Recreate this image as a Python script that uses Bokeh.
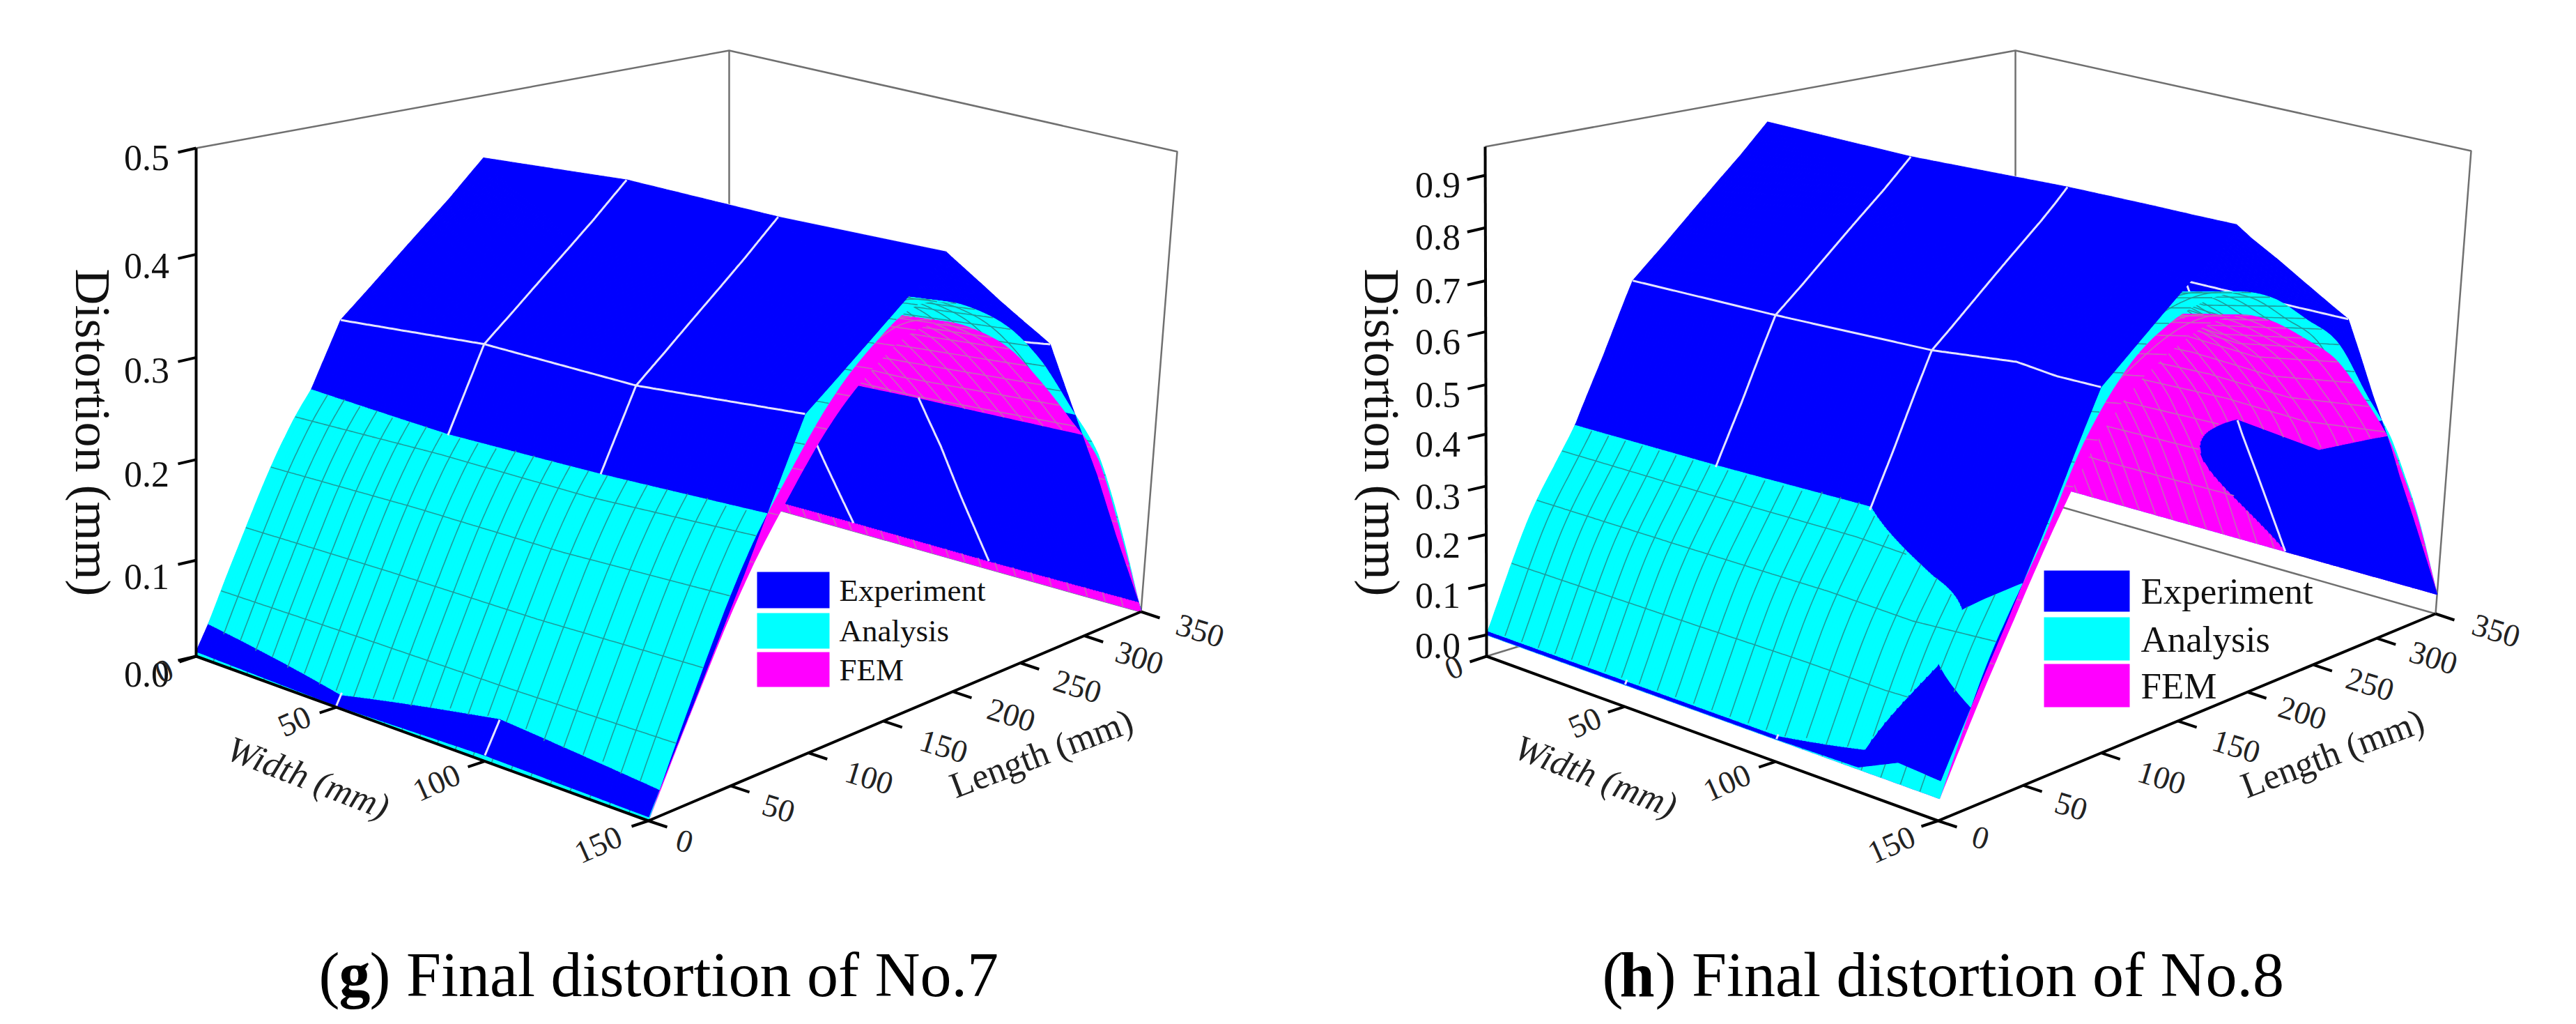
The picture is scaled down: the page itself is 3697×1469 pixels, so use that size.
import numpy as np
from bokeh.plotting import figure
from bokeh.layouts import row
from bokeh.models import Range1d
from bokeh.embed import file_html
from bokeh.resources import INLINE
from bokeh.core.properties import value

# ---- chart values (mm) ----
WIDTH_TICKS = [0, 50, 100, 150]
LENGTH_TICKS = [0, 50, 100, 150, 200, 250, 300, 350]
Z_TICKS_7 = [0.0, 0.1, 0.2, 0.3, 0.4, 0.5]
Z_TICKS_8 = [0.0, 0.1, 0.2, 0.3, 0.4, 0.5, 0.6, 0.7, 0.8, 0.9]
LEGEND_LABELS = ["Experiment", "Analysis", "FEM"]
COLORS = ["#0000ff", "#00ffff", "#ff00ff"]

EXP_WIDTH_7 = [0, 50, 100, 150]
EXP_LENGTH_7 = [0, 83, 172, 255, 350]
EXP_Z_7 = [[0.005, 0.304, 0.437, 0.296, 0.002],
           [0.0015, 0.323, 0.453, 0.310, 0.002],
           [0.006, 0.327, 0.456, 0.309, 0.002],
           [0.004, 0.348, 0.465, 0.337, 0.002]]
EXP_WIDTH_8 = [0, 50, 100, 125, 137, 150]
EXP_LENGTH_8 = [0, 84, 168, 258, 350]
EXP_Z_8 = [[0.001, 0.636, 0.900, 0.680, 0.060],
           [0.001, 0.652, 0.905, 0.680, 0.050],
           [0.001, 0.674, 0.924, 0.670, 0.000],
           [0.004, 0.700, 0.930, 0.673, 0.000],
           [0.040, 0.695, 0.932, 0.675, 0.000],
           [0.034, 0.699, 0.935, 0.677, 0.000]]

MODEL_LENGTH = [0, 25, 50, 75, 100, 125, 150, 175, 200, 225, 250, 275, 300, 325, 350]
ANA_Z_7 = [0, 0.120, 0.225, 0.295, 0.355, 0.395, 0.420, 0.415, 0.395, 0.365, 0.320, 0.262, 0.200, 0.110, 0]
FEM_Z_7 = [0, 0.105, 0.200, 0.270, 0.330, 0.370, 0.395, 0.395, 0.375, 0.345, 0.300, 0.250, 0.195, 0.105, 0]
FACTOR_WIDTH_7 = [0, 50, 100, 150]
ANA_WIDTH_FACTOR_7 = [0.89, 0.925, 0.945, 1.0]
ANA_Z_8 = [0, 0.245, 0.420, 0.600, 0.720, 0.780, 0.805, 0.800, 0.765, 0.705, 0.637, 0.515, 0.385, 0.215, 0]
FEM_Z_8 = [0, 0.200, 0.390, 0.550, 0.660, 0.720, 0.755, 0.755, 0.720, 0.665, 0.600, 0.500, 0.375, 0.210, 0]
FACTOR_WIDTH_8 = [0, 50, 100, 125, 150]
ANA_WIDTH_FACTOR_8 = [0.90, 0.923, 0.955, 0.945, 1.0]

# ---- how each 3-D box lies on the page ----
PANEL_7 = dict(
    corners={(0, 0, 0): (289, 949), (0, 0, 1): (289, 220), (1, 0, 0): (938, 1185), (1, 0, 1): (985, 425),
             (0, 1, 0): (1054, 719), (0, 1, 1): (1054, 80), (1, 1, 0): (1645, 885), (1, 1, 1): (1697, 225)},
    u=[0, .31, .638, 1], v=[0, .167, .325, .477, .618, .755, .885, 1],
    zk=[0, .1, .2, .3, .4, .5], wk=[0, .189, .387, .588, .791, 1],
    zmin=0.0, zmax=0.5, z_ticks=Z_TICKS_7,
    exp_w=EXP_WIDTH_7, exp_l=EXP_LENGTH_7, exp_z=EXP_Z_7, ana=ANA_Z_7, fem=FEM_Z_7,
    fac_w=FACTOR_WIDTH_7, fac=ANA_WIDTH_FACTOR_7,
    xr=(8, 1848), zlab_x=218, zlab_dy=(26, 14), ztitle_x=140,
    wlab=[(243, 970), (430, 1042), (634, 1130), (866, 1219)], wtitle=(450, 1123),
    llab=[(990, 1214), (1125, 1167), (1255, 1123), (1362, 1078), (1459, 1033), (1554, 992), (1643, 951), (1730, 912)],
    ltitle=(1502, 1088),
    legend=[(1094, 1198, 828, 880), (1094, 1198, 887, 938), (1094, 1198, 943, 993)], leg_x=1212, leg_size="45px",
    cap=[("(", 465, "normal"), ("g", 494, "bold"), (") Final distortion of No.7", 538, "normal")])
PANEL_8 = dict(
    corners={(0, 0, 0): (2141, 949), (0, 0, 1): (2139, 218), (1, 0, 0): (2789, 1185), (1, 0, 1): (2836, 425),
             (0, 1, 0): (2900, 716), (0, 1, 1): (2900, 80), (1, 1, 0): (3503, 888), (1, 1, 1): (3554, 224)},
    u=[0, .306, .64, 1], v=[0, .171, .328, .482, .622, .754, .882, 1],
    zk=[-.043, 0, .1, .2, .3, .4, .5, .6, .7, .8, .9, .95],
    wk=[0, .042, .141, .239, .334, .436, .533, .637, .737, .841, .944, 1],
    zmin=-0.043, zmax=0.95, z_ticks=Z_TICKS_8,
    exp_w=EXP_WIDTH_8, exp_l=EXP_LENGTH_8, exp_z=EXP_Z_8, ana=ANA_Z_8, fem=FEM_Z_8,
    fac_w=FACTOR_WIDTH_8, fac=ANA_WIDTH_FACTOR_8,
    xr=(1848, 3689), zlab_x=2071, zlab_dy=(16, 14), ztitle_x=1990,
    wlab=[(2094, 965), (2282, 1044), (2486, 1130), (2722, 1219)], wtitle=(2298, 1121),
    llab=[(2850, 1209), (2980, 1164), (3110, 1123), (3217, 1078), (3312, 1030), (3409, 989), (3500, 951), (3590, 912)],
    ltitle=(3355, 1088),
    legend=[(2941, 3064, 826, 885), (2941, 3064, 893, 955), (2941, 3064, 960, 1022)], leg_x=3080, leg_size="53px",
    cap=[("(", 2307, "normal"), ("h", 2332, "bold"), (") Final distortion of No.8", 2383, "normal")])

SERIF = value("Liberation Serif")
WG = np.linspace(0, 150, 151)
LG = np.linspace(0, 350, 351)


def smooth_profile(vals):
    """Catmull-Rom curve through the read profile values, on a 1 mm table."""
    q = np.arange(0, 351.0)
    y = np.asarray(vals, float)
    y = np.concatenate([[2 * y[0] - y[1]], y, [2 * y[-1] - y[-2]]])
    s = q / 25.0
    i = np.clip(np.floor(s).astype(int), 0, len(vals) - 2) + 1
    t = s - (i - 1)
    p0, p1, p2, p3 = y[i - 1], y[i], y[i + 1], y[i + 2]
    return q, 0.5 * (2 * p1 + (p2 - p0) * t + (2 * p0 - 5 * p1 + 4 * p2 - p3) * t ** 2 + (3 * p1 - p0 - 3 * p2 + p3) * t ** 3)


def make_heights(P):
    ln = np.asarray(P["exp_l"], float)
    zn = np.asarray(P["exp_z"], float)
    wn = P["exp_w"]
    def exp_h(W, L):
        W, L = np.asarray(W, float), np.asarray(L, float)
        stack = np.stack([np.interp(W, wn, zn[:, k]) for k in range(len(ln))])
        j = np.clip(np.searchsorted(ln, L, side="right") - 1, 0, len(ln) - 2)
        t = (L - ln[j]) / (ln[j + 1] - ln[j])
        a = np.arange(W.size)
        return stack[j, a] * (1 - t) + stack[j + 1, a] * t
    def model(vals):
        q, tab = smooth_profile(vals)
        def h(W, L):
            return np.interp(W, P["fac_w"], P["fac"]) * np.interp(L, q, tab)
        return h
    return [exp_h, model(P["ana"]), model(P["fem"])]


def make_project(P):
    c = P["corners"]
    def proj(W, L, z):
        W, L, z = np.asarray(W, float), np.asarray(L, float), np.asarray(z, float)
        u = np.interp(W, WIDTH_TICKS, P["u"])
        v = np.interp(L, LENGTH_TICKS, P["v"])
        w = np.interp(z, P["zk"], P["wk"])
        x = 0 * u
        y = 0 * u
        for (a, b, d), (px, py) in c.items():
            f = (u if a else 1 - u) * (v if b else 1 - v) * (w if d else 1 - w)
            x = x + f * px
            y = y + f * py
        return x, y
    return proj


def runs(mask):
    out, j, n = [], 0, len(mask)
    while j < n:
        if mask[j]:
            k = j
            while k + 1 < n and mask[k + 1]:
                k += 1
            out.append((j, k))
            j = k + 1
        else:
            j += 1
    return out


def draw_panel(P):
    p = figure(width=P["xr"][1] - P["xr"][0], height=1453, x_range=Range1d(*P["xr"]), y_range=Range1d(1461, 8),
               output_backend="svg", toolbar_location=None, min_border=0, outline_line_color=None)
    p.axis.visible = False
    p.grid.visible = False
    heights = make_heights(P)
    proj = make_project(P)
    zmin, zmax = P["zmin"], P["zmax"]

    # the box behind the surfaces
    def line3(pts):
        a = np.array(pts, float)
        return proj(a[:, 0], a[:, 1], a[:, 2])
    bx, by = [], []
    for pts in ([(0, 0, zmax), (0, 350, zmax), (150, 350, zmax), (150, 350, zmin)],
                [(0, 350, zmax), (0, 350, zmin)], [(0, 0, zmin), (0, 350, zmin), (150, 350, zmin)]):
        x, y = line3(pts)
        bx.append(list(x)); by.append(list(y))
    p.multi_line(bx, by, line_color="#707070", line_width=2.5)

    # sampled surfaces
    WW, LL = np.meshgrid(WG, LG, indexing="ij")
    Z = np.stack([h(WW.ravel(), LL.ravel()).reshape(WW.shape) for h in heights])
    X, Y = proj(np.broadcast_to(WW, Z.shape), np.broadcast_to(LL, Z.shape), Z)
    cz = (Z[:, :-1, :-1] + Z[:, 1:, :-1] + Z[:, 1:, 1:] + Z[:, :-1, 1:]) / 4
    order = np.argsort(-cz, axis=0, kind="stable")
    rank = np.argsort(order, axis=0)
    xa, ya, xb, yb = X[:, :-1, :-1], Y[:, :-1, :-1], X[:, 1:, :-1], Y[:, 1:, :-1]
    xc, yc, xd, yd = X[:, 1:, 1:], Y[:, 1:, 1:], X[:, :-1, 1:], Y[:, :-1, 1:]
    area = (xa * yb - xb * ya) + (xb * yc - xc * yb) + (xc * yd - xd * yc) + (xd * ya - xa * yd)
    front = area < 0
    nL = len(LG)

    def crossing(s, t, e, j):
        """Where surfaces s and t meet along the grid line W[e], searched near node j."""
        if s == t:
            return float(j)
        g = Z[s, e] - Z[t, e]
        best, bd = float(j), 1e9
        for k in range(max(j - 5, 0), min(j + 5, nL - 1)):
            if g[k] * g[k + 1] <= 0 and g[k] != g[k + 1]:
                pos = k + g[k] / (g[k] - g[k + 1])
                if abs(pos - j) < bd:
                    best, bd = pos, abs(pos - j)
        return best

    def edge_points(s, e, lo, hi):
        ints = [j for j in range(int(np.ceil(lo + 1e-6)), int(np.floor(hi - 1e-6)) + 1)]
        pos = np.array([lo] + ints + [hi])
        return np.interp(pos, np.arange(nL), X[s, e]), np.interp(pos, np.arange(nL), Y[s, e])

    # mesh lines, each piece filed under the layer its cell belongs to
    layer_lines = {}
    def add_mesh(s, Ws, Ls, color, width):
        n = min(len(Ws), len(Ls))
        zz = heights[s](Ws, Ls)
        xx, yy = proj(Ws, Ls, zz)
        wm, lm = (Ws[:-1] + Ws[1:]) / 2, (Ls[:-1] + Ls[1:]) / 2
        i = np.clip(wm.astype(int), 0, len(WG) - 2)
        j = np.clip(lm.astype(int), 0, len(LG) - 2)
        f, r = front[s, i, j], rank[s, i, j]
        key = f * 10 + r
        k = 0
        while k < n - 1:
            m = k
            while m + 1 < n - 1 and key[m + 1] == key[k]:
                m += 1
            d = layer_lines.setdefault((bool(f[k]), int(r[k])), {"x": [], "y": [], "c": [], "w": []})
            d["x"].append(list(np.round(xx[k:m + 2], 1))); d["y"].append(list(np.round(yy[k:m + 2], 1)))
            d["c"].append(color); d["w"].append(width)
            k = m + 1
    for s, col, wd in ((2, "#c468b8", 1.6), (1, "#1c9c9c", 1.6)):
        for w0 in np.arange(6, 150, 6.0):
            add_mesh(s, np.full(LG.shape, w0), LG, col, wd)
        for l0 in np.arange(14, 350, 14.0):
            add_mesh(s, WG, np.full(WG.shape, l0), col, wd)
    for w0 in (50.0, 100.0):
        add_mesh(0, np.full(LG.shape, w0), LG, "#e4e4ff", 3)
    for l0 in P["exp_l"][1:-1]:
        add_mesh(0, WG, np.full(WG.shape, float(l0)), "#e4e4ff", 3)

    # layers, far to near
    for f, r in ((False, 0), (False, 1), (False, 2), (True, 2), (True, 1), (True, 0)):
        xs, ys, cols = [], [], []
        for i in range(len(WG) - 1):
            for s in range(3):
                m = (rank[s, i] == r) & (front[s, i] == f)
                for j0, j1 in runs(m):
                    t_lo = int(np.argmax(rank[:, i, j0 - 1] == r)) if j0 > 0 else s
                    t_hi = int(np.argmax(rank[:, i, j1 + 1] == r)) if j1 + 1 < nL - 1 else s
                    ax0, ay0 = edge_points(s, i, crossing(s, t_lo, i, j0), crossing(s, t_hi, i, j1 + 1))
                    ax1, ay1 = edge_points(s, i + 1, crossing(s, t_lo, i + 1, j0), crossing(s, t_hi, i + 1, j1 + 1))
                    xs.append(list(np.round(np.concatenate([ax0, ax1[::-1]]), 1)))
                    ys.append(list(np.round(np.concatenate([ay0, ay1[::-1]]), 1)))
                    cols.append(COLORS[s])
        if xs:
            p.patches(xs, ys, fill_color=cols, line_color=cols, line_width=1.2)
        d = layer_lines.get((f, r))
        if d:
            p.multi_line(d["x"], d["y"], line_color=d["c"], line_width=d["w"])

    # axes
    ax, ay = [], []
    for pts in ([(0, 0, zmin), (0, 0, zmax)], [(0, 0, zmin), (150, 0, zmin)], [(150, 0, zmin), (150, 350, zmin)]):
        x, y = line3(pts)
        ax.append(list(x)); ay.append(list(y))
    zt = np.array(P["z_ticks"], float)
    x, y = proj(0 * zt, 0 * zt, zt)
    for a, b in zip(x, y):
        ax.append([a, a - 26]); ay.append([b, b + 6])
    wt = np.array(WIDTH_TICKS, float)
    x, y = proj(wt, 0 * wt, 0 * wt + zmin)
    for a, b in zip(x, y):
        ax.append([a, a - 24]); ay.append([b, b + 8])
    lt = np.array(LENGTH_TICKS, float)
    x, y = proj(0 * lt + 150, lt, 0 * lt + zmin)
    for a, b in zip(x, y):
        ax.append([a, a + 27]); ay.append([b, b + 9])
    p.multi_line(ax, ay, line_color="black", line_width=4)

    # tick labels and titles
    x, y = proj(0 * zt, 0 * zt, zt)
    dy = np.interp(zt, [0, zt[-1]], P["zlab_dy"])
    p.text(np.full(zt.shape, P["zlab_x"]), y + dy, text=[f"{t:.1f}" for t in zt], text_font=SERIF,
           text_font_size="52px", text_align="center", text_baseline="middle", text_color="#111111")
    p.text([P["ztitle_x"]], [628], text=["Distortion (mm)"], text_font=SERIF, text_font_size="72px",
           angle=-np.pi / 2, text_align="center", text_baseline="middle", text_color="#111111")
    p.text([a for a, _ in P["wlab"]], [b for _, b in P["wlab"]], text=[str(t) for t in WIDTH_TICKS], text_font=SERIF,
           text_font_size="46px", angle=np.radians(24), text_align="center", text_baseline="middle", text_color="#222222")
    p.text([P["wtitle"][0]], [P["wtitle"][1]], text=["Width (mm)"], text_font=SERIF, text_font_size="52px",
           text_font_style="italic", angle=np.radians(-21), text_align="center", text_baseline="middle", text_color="#222222")
    p.text([a for a, _ in P["llab"]], [b for _, b in P["llab"]], text=[str(t) for t in LENGTH_TICKS], text_font=SERIF,
           text_font_size="46px", angle=np.radians(-17), text_align="center", text_baseline="middle", text_color="#222222")
    p.text([P["ltitle"][0]], [P["ltitle"][1]], text=["Length (mm)"], text_font=SERIF, text_font_size="52px",
           angle=np.radians(20.6), text_align="center", text_baseline="middle", text_color="#222222")

    # legend
    for (l, r_, t, b), col, lab in zip(P["legend"], COLORS, LEGEND_LABELS):
        p.quad(left=[l], right=[r_], top=[t], bottom=[b], fill_color=col, line_color=None)
        p.text([P["leg_x"]], [(t + b) / 2], text=[lab], text_font=SERIF, text_font_size=P["leg_size"],
               text_align="left", text_baseline="middle", text_color="#111111")

    # caption
    for txt, x0, style in P["cap"]:
        p.text([x0], [1406], text=[txt], text_font=SERIF, text_font_size="90px", text_font_style=style,
               text_align="left", text_baseline="alphabetic", text_color="black")
    return p


layout = row(draw_panel(PANEL_7), draw_panel(PANEL_8), spacing=0)
open("out.html", "w").write(file_html(layout, INLINE))
